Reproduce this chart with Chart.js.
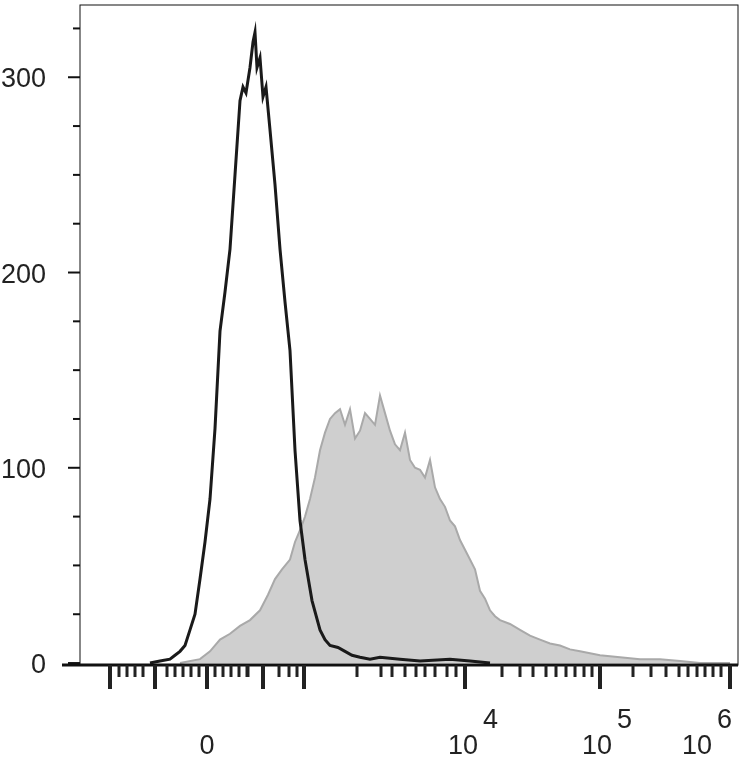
<!DOCTYPE html>
<html><head><meta charset="utf-8">
<script src="https://cdn.jsdelivr.net/npm/chart.js@4/dist/chart.umd.min.js"></script>
<style>
html,body{margin:0;padding:0;background:#fff;overflow:hidden}
#wrap{position:absolute;left:0;top:0;width:748px;height:773px}
</style></head>
<body><div id="wrap"><canvas id="c"></canvas></div>
<script>
// channel positions (display units) and counts
const blackX = [150,160,170,175,180,185,190,195,200,205,210,215,220,225,230,235,240,243,246,250,253,255,257,260,263,266,270,275,280,285,290,295,300,305,312,320,325,330,338,345,352,360,370,380,400,420,450,470,490];
const blackY = [0,1,2,4,6,9,17,25,43,62,84,120,170,190,212,250,288,295,292,305,318,323,305,310,290,295,273,245,212,185,160,109,73,53,32,17,12,9,8,6,4,3,2,3,2,1,2,1,0];
const grayX = [180,200,210,220,230,240,250,260,268,275,282,290,295,300,305,310,315,320,325,330,335,340,345,350,355,360,365,370,375,380,385,390,395,400,405,410,415,420,425,430,435,440,445,450,455,460,465,470,475,480,485,490,495,500,510,520,530,540,550,560,570,580,590,600,620,640,660,680,700,730];
const grayY = [0,2,6,12,15,19,22,27,35,43,48,53,62,68,75,84,95,109,118,125,128,130,122,130,115,119,128,125,122,137,128,119,112,109,118,104,100,99,95,104,90,84,80,73,70,63,58,53,48,37,33,27,24,22,20,17,14,12,10,9,7,6,5,4,3,2,2,1,0,0];
const yTicks = [0,100,200,300];
const xMajor = [110,155,207,263,304,465,600,730];
const xMinor = [119,127,135,143,167,175,183,191,199,215,223,231,239,247,248,279,289,297,357,381,392,405,416,425,435,447,456,502,520,533,546,556,566,575,584,592,633,651,666,679,688,697,705,713,721];
// label anchor value and text offset from it
const xLabels = [{v:207,base:'0',dx:0},{v:465,base:'10',exp:'4',dx:13},{v:600,base:'10',exp:'5',dx:12},{v:730,base:'10',exp:'6',dx:-18}];

const axisDecor = {
  id: 'axisDecor',
  afterDraw(chart) {
    const {ctx, scales:{x, y}, chartArea:a} = chart;
    ctx.save();
    ctx.strokeStyle = '#111';
    ctx.lineWidth = 1;
    ctx.strokeRect(a.left, a.top, a.right - a.left, a.bottom - a.top);
    ctx.lineWidth = 3;
    ctx.beginPath(); ctx.moveTo(62, a.bottom); ctx.lineTo(a.right, a.bottom); ctx.stroke();
    ctx.fillStyle = '#222';
    xMajor.forEach(v => { const p = x.getPixelForValue(v); ctx.fillRect(p - 2, a.bottom, 4, 24); });
    xMinor.forEach(v => { const p = x.getPixelForValue(v); ctx.fillRect(p - 1.5, a.bottom, 3, 12); });
    ctx.lineWidth = 2;
    for (let v = 0; v <= 325; v += 25) {
      const p = y.getPixelForValue(v);
      ctx.beginPath(); ctx.moveTo(a.left, p); ctx.lineTo(a.left - (v % 100 === 0 ? 12 : 7), p); ctx.stroke();
    }
    ctx.font = '27px "Liberation Sans", Arial';
    ctx.textBaseline = 'alphabetic';
    xLabels.forEach(l => {
      const p = x.getPixelForValue(l.v);
      if (!l.exp) { ctx.textAlign = 'center'; ctx.fillText(l.base, p, 754); return; }
      ctx.textAlign = 'right'; ctx.fillText(l.base, p + l.dx, 754);
      ctx.textAlign = 'left'; ctx.fillText(l.exp, p + l.dx + 5, 728);
    });
    ctx.textAlign = 'right';
    yTicks.forEach(v => ctx.fillText(String(v), 46, y.getPixelForValue(v) + 10));
    ctx.restore();
  }
};

new Chart(document.getElementById('c'), {
  type: 'line',
  data: {
    datasets: [
      { data: blackX.map((v, i) => ({x: v, y: blackY[i]})), borderColor: '#1a1a1a', borderWidth: 3, pointRadius: 0, fill: false, tension: 0, order: 0 },
      { data: grayX.map((v, i) => ({x: v, y: grayY[i]})), borderColor: '#a9a9a9', borderWidth: 2, backgroundColor: '#cfcfcf', pointRadius: 0, fill: 'origin', tension: 0, order: 1 }
    ]
  },
  plugins: [axisDecor],
  options: {
    responsive: true, maintainAspectRatio: false, animation: false,
    layout: { padding: { left: 80, top: 5, right: 10, bottom: 108 } },
    plugins: { legend: { display: false }, tooltip: { enabled: false } },
    scales: {
      x: { type: 'linear', min: 80, max: 738, display: false },
      y: { min: -1, max: 337, display: false }
    }
  }
});
</script></body></html>
